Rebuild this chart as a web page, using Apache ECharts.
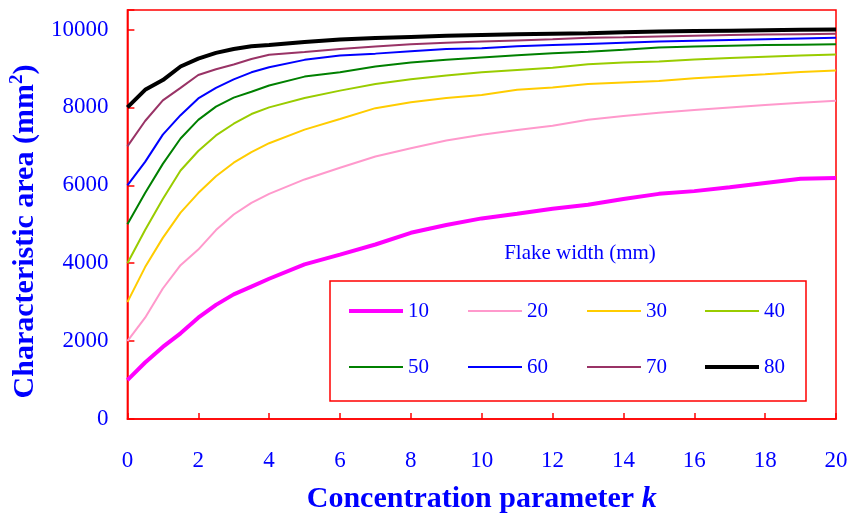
<!DOCTYPE html>
<html>
<head>
<meta charset="utf-8">
<script src="https://cdn.jsdelivr.net/npm/echarts@6/dist/echarts.min.js"></script>
<style>html,body{margin:0;padding:0;background:#fff}#chart{width:852px;height:519px}</style>
</head>
<body>
<div id="chart"></div>
<script>
// Concentration parameter k
const kValues = [0, 0.5, 1, 1.5, 2, 2.5, 3, 3.5, 4, 5, 6, 7, 8, 9, 10, 11, 12, 13, 14, 15, 16, 17, 18, 19, 20];
// Characteristic area (mm^2) for each flake width
const w10 = [1000, 1450, 1850, 2200, 2600, 2930, 3200, 3400, 3600, 3970, 4220, 4480, 4780, 4980, 5150, 5270, 5400, 5500, 5650, 5780, 5850, 5950, 6060, 6170, 6190];
const w20 = [2000, 2600, 3350, 3950, 4350, 4850, 5250, 5550, 5780, 6150, 6450, 6740, 6950, 7150, 7300, 7420, 7530, 7680, 7780, 7860, 7930, 8000, 8060, 8120, 8170];
const w30 = [3000, 3900, 4650, 5300, 5800, 6230, 6580, 6850, 7080, 7430, 7700, 7980, 8130, 8240, 8320, 8450, 8510, 8600, 8640, 8680, 8750, 8800, 8850, 8910, 8950];
const w40 = [4000, 4850, 5650, 6380, 6880, 7280, 7580, 7830, 8000, 8240, 8430, 8600, 8720, 8820, 8900, 8960, 9020, 9110, 9150, 9180, 9230, 9270, 9300, 9330, 9360];
const w50 = [5000, 5800, 6550, 7200, 7680, 8020, 8250, 8400, 8560, 8790, 8900, 9050, 9150, 9220, 9280, 9340, 9390, 9430, 9480, 9540, 9560, 9580, 9600, 9610, 9620];
const w60 = [6000, 6600, 7300, 7800, 8230, 8500, 8720, 8900, 9030, 9220, 9330, 9380, 9440, 9500, 9520, 9570, 9600, 9630, 9660, 9690, 9710, 9730, 9750, 9770, 9790];
const w70 = [7000, 7650, 8180, 8500, 8830, 8980, 9100, 9240, 9350, 9420, 9500, 9560, 9620, 9660, 9690, 9720, 9750, 9790, 9800, 9820, 9840, 9860, 9870, 9880, 9890];
const w80 = [8000, 8450, 8700, 9050, 9250, 9400, 9500, 9570, 9600, 9680, 9740, 9780, 9810, 9840, 9860, 9880, 9890, 9900, 9930, 9950, 9960, 9970, 9980, 9990, 10000];
const seriesNames = ['10', '20', '30', '40', '50', '60', '70', '80'];
const seriesValues = [w10, w20, w30, w40, w50, w60, w70, w80];
const seriesColors = ['#ff00ff', '#ff99cc', '#ffcc00', '#99cc00', '#008000', '#0000ff', '#993366', '#000000'];
const seriesWidths = [4, 2, 2, 2, 2, 2, 2, 4];
const yTicks = [0, 2000, 4000, 6000, 8000, 10000];

const FONT = 'Liberation Serif';
const BLUE = '#0000ff';
const RED = '#ff0000';

// legend layout (4 columns x 2 rows inside a framed box)
const legendColLeft = [349, 468, 587, 705];
const legendRowCenter = [311, 367];

const legends = seriesNames.map((name, i) => ({
  data: [name],
  orient: 'horizontal',
  left: legendColLeft[i % 4],
  top: legendRowCenter[Math.floor(i / 4)] - 11,
  padding: 0,
  icon: 'rect',
  itemWidth: 54,
  itemHeight: seriesWidths[i],
  textStyle: {fontFamily: FONT, fontSize: 21, color: BLUE, lineHeight: 22},
  selectedMode: false
}));

const chart = echarts.init(document.getElementById('chart'), null, {renderer: 'canvas'});
chart.setOption({
  animation: false,
  backgroundColor: '#ffffff',
  grid: {
    left: 127, right: 16, top: 10, bottom: 99,
    show: true, borderColor: RED, borderWidth: 1.5, backgroundColor: 'transparent'
  },
  xAxis: {
    type: 'value', min: 0, max: 20, interval: 2,
    name: '{a|Concentration parameter }{k|k}',
    nameLocation: 'middle', nameGap: 65,
    nameTextStyle: {
      rich: {
        a: {fontFamily: FONT, fontWeight: 'bold', fontSize: 30, color: BLUE},
        k: {fontFamily: FONT, fontWeight: 'bold', fontStyle: 'italic', fontSize: 30, color: BLUE}
      }
    },
    axisLine: {lineStyle: {color: RED, width: 1.5}},
    axisTick: {inside: true, length: 6, lineStyle: {color: RED, width: 1.5}},
    axisLabel: {fontFamily: FONT, fontSize: 23, color: BLUE, margin: 30},
    splitLine: {show: false}
  },
  yAxis: {
    type: 'value', min: 0, max: 10500, interval: 2000,
    name: '{a|Characteristic area (mm}{s|2}{a|)}',
    nameLocation: 'middle', nameGap: 75,
    nameTextStyle: {
      padding: [0, 34, 0, 0],
      rich: {
        a: {fontFamily: FONT, fontWeight: 'bold', fontSize: 30, color: BLUE},
        s: {fontFamily: FONT, fontWeight: 'bold', fontSize: 19, color: BLUE, padding: [0, 0, 15, 0]}
      }
    },
    axisLine: {lineStyle: {color: RED, width: 1.5}},
    axisTick: {inside: true, length: 7, lineStyle: {color: RED, width: 1.5}},
    axisLabel: {
      fontFamily: FONT, fontSize: 23, color: BLUE, margin: 19,
      formatter: v => (yTicks.indexOf(v) >= 0 ? String(v) : '')
    },
    splitLine: {show: false}
  },
  legend: legends,
  graphic: [
    {
      type: 'text', x: 580, y: 253,
      style: {text: 'Flake width (mm)', fontFamily: FONT, fontSize: 21, fill: BLUE, align: 'center', verticalAlign: 'middle'}
    },
    {
      type: 'rect', shape: {x: 330, y: 281, width: 476, height: 120},
      style: {fill: 'none', stroke: RED, lineWidth: 1.5}, z: 10
    }
  ],
  series: seriesNames.map((name, i) => ({
    name: name,
    type: 'line',
    symbol: 'none',
    data: kValues.map((k, j) => [k, seriesValues[i][j]]),
    lineStyle: {color: seriesColors[i], width: seriesWidths[i]},
    itemStyle: {color: seriesColors[i]},
    emphasis: {disabled: true},
    z: i === 0 || i === 7 ? 3 : 2
  }))
});
</script>
</body>
</html>
